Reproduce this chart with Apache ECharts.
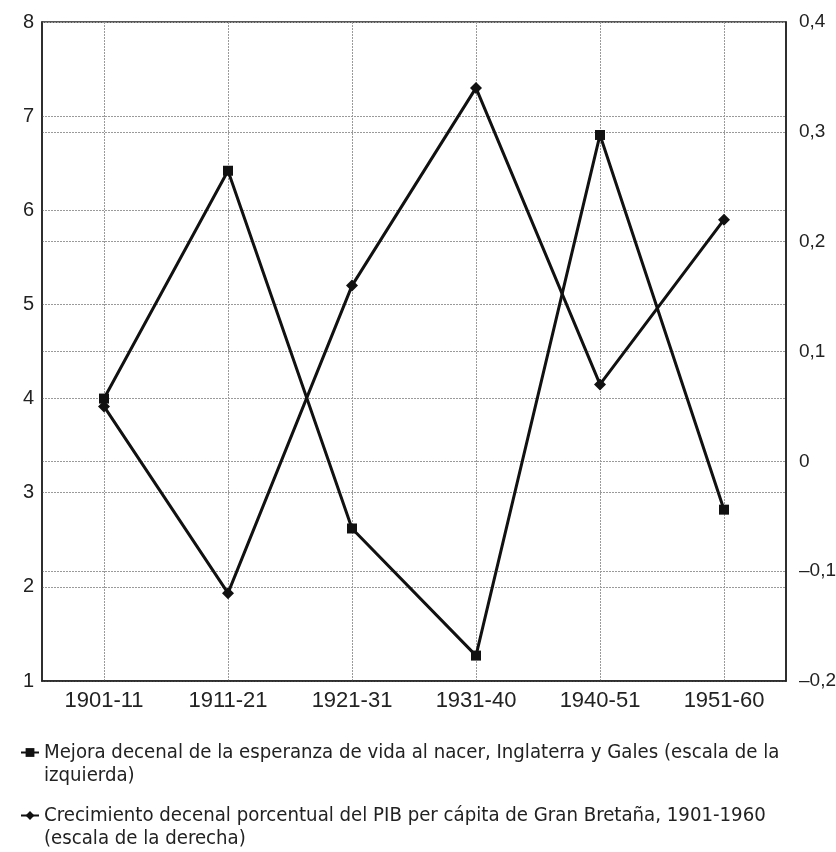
<!DOCTYPE html>
<html>
<head>
<meta charset="utf-8">
<script src="https://cdn.jsdelivr.net/npm/echarts@6/dist/echarts.min.js"></script>
<style>
html,body{margin:0;padding:0;background:#fff;}
#c{width:836px;height:852px;}
</style>
</head>
<body>
<div id="c"></div>
<script>
var categories = ['1901-11', '1911-21', '1921-31', '1931-40', '1940-51', '1951-60'];
var lifeExpGain = [4.0, 6.42, 2.62, 1.27, 6.8, 2.82];
var gdpGrowth = [0.05, -0.12, 0.16, 0.34, 0.07, 0.22];
var leftTicks = [1, 2, 3, 4, 5, 6, 7, 8];
var rightTicks = [-0.2, -0.1, 0, 0.1, 0.2, 0.3, 0.4];
var seriesNames = [
  'Mejora decenal de la esperanza de vida al nacer, Inglaterra y Gales (escala de la\nizquierda)',
  'Crecimiento decenal porcentual del PIB per cápita de Gran Bretaña, 1901-1960\n(escala de la derecha)'
];

var chart = echarts.init(document.getElementById('c'), null, {renderer: 'canvas'});
var axisFont = 'Liberation Sans, Arial, sans-serif';
var gridLine = {show: true, lineStyle: {color: '#9a9a9a', width: 1, type: [2, 1]}};
var legendText = {
  fontFamily: 'DejaVu Sans Condensed, Liberation Sans, sans-serif',
  fontSize: 20.2,
  color: '#222',
  lineHeight: 23
};
function makeLegend(name, top) {
  return {
    orient: 'vertical',
    left: 15,
    top: top,
    itemWidth: 18,
    itemHeight: 11,
    data: [name],
    formatter: function (n) { return '\n' + n; },
    textStyle: legendText
  };
}

chart.setOption({
  backgroundColor: '#ffffff',
  animation: false,
  grid: {left: 42, right: 50, top: 22, bottom: 171, outerBoundsMode: 'none', containLabel: false, show: true, borderColor: '#222', borderWidth: 1.5, backgroundColor: 'transparent'},
  legend: [makeLegend(seriesNames[0], 713), makeLegend(seriesNames[1], 776)],
  xAxis: {
    type: 'category',
    data: categories,
    boundaryGap: true,
    axisLine: {show: true, onZero: false, lineStyle: {color: '#222', width: 1.5}},
    axisTick: {show: false, alignWithLabel: true},
    splitLine: {show: true, alignWithLabel: true, lineStyle: {color: '#9a9a9a', width: 1, type: [2, 1]}},
    axisLabel: {fontFamily: axisFont, fontSize: 22, color: '#222', margin: 9}
  },
  yAxis: [
    {
      type: 'value',
      min: leftTicks[0],
      max: leftTicks[leftTicks.length - 1],
      interval: 1,
      position: 'left',
      axisLine: {show: true, lineStyle: {color: '#222', width: 1.5}},
      axisTick: {show: false},
      splitLine: gridLine,
      axisLabel: {fontFamily: axisFont, fontSize: 20, color: '#222', margin: 8}
    },
    {
      type: 'value',
      min: rightTicks[0],
      max: rightTicks[rightTicks.length - 1],
      interval: 0.1,
      position: 'right',
      axisLine: {show: true, lineStyle: {color: '#222', width: 1.5}},
      axisTick: {show: false},
      splitLine: gridLine,
      axisLabel: {
        fontFamily: axisFont, fontSize: 19, color: '#222', margin: 13,
        formatter: function (v) {
          var r = Math.round(v * 10) / 10;
          var s = String(Math.abs(r)).replace('.', ',');
          return r < 0 ? '\u2013' + s : s;
        }
      }
    }
  ],
  series: [
    {
      name: seriesNames[0],
      type: 'line',
      yAxisIndex: 0,
      data: lifeExpGain,
      symbol: 'rect',
      symbolSize: 10,
      lineStyle: {color: '#111', width: 3},
      itemStyle: {color: '#111'},
      z: 3
    },
    {
      name: seriesNames[1],
      type: 'line',
      yAxisIndex: 1,
      data: gdpGrowth,
      symbol: 'diamond',
      symbolSize: 12,
      lineStyle: {color: '#111', width: 3},
      itemStyle: {color: '#111'},
      z: 3
    }
  ]
});
</script>
</body>
</html>
